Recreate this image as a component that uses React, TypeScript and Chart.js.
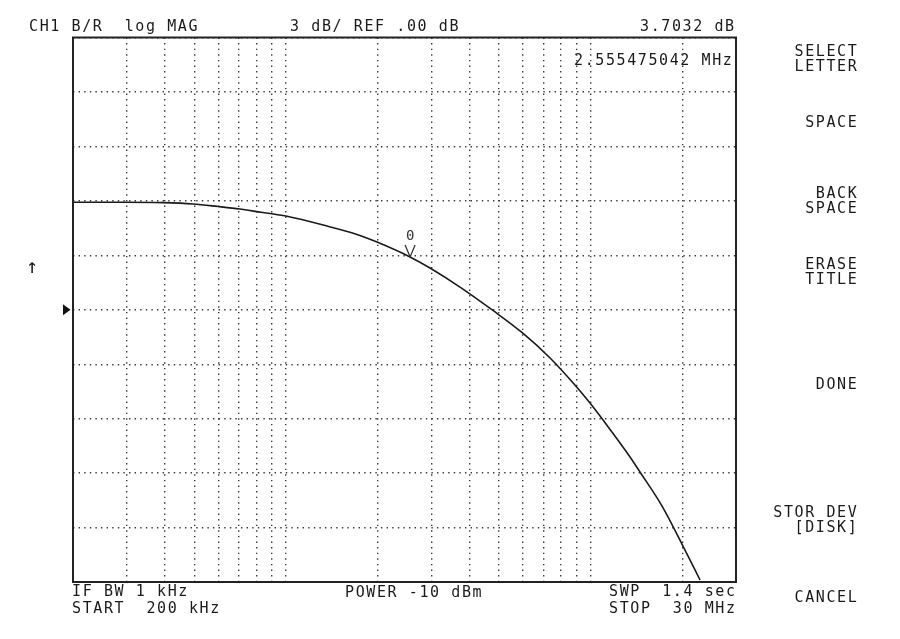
import React, { useEffect, useRef } from "react";
import { Chart, registerables } from "chart.js";

Chart.register(...registerables);

const freqMHz = [0.2, 0.296, 0.395, 0.495, 0.598, 0.706, 0.791, 0.9, 1.008, 1.323, 1.711, 1.99, 2.554, 2.97, 3.726, 4.78, 5.95, 7.36, 8.88, 9.95, 11.31, 13.26, 14.52, 17.14, 19.94, 22.86];
const magDb = [5.92, 5.92, 5.9, 5.83, 5.69, 5.55, 5.42, 5.29, 5.15, 4.67, 4.15, 3.73, 2.91, 2.3, 1.25, -0.04, -1.25, -2.66, -4.15, -5.14, -6.36, -7.95, -8.94, -10.81, -12.91, -14.89];

// Axes
const startMHz = 0.2;
const stopMHz = 30;
const gridFreqs = [0.3, 0.4, 0.5, 0.6, 0.7, 0.8, 0.9, 1, 2, 3, 4, 5, 6, 7, 8, 9, 10, 20];
const refLevel = 0;
const dbPerDiv = 3;
const divisions = 10;

// Marker
const markerFreq = 2.555475042;
const markerDb = 2.91;
const markerLabel = "0";

// Texts
const headerLeft = "CH1 B/R  log MAG";
const headerMid = "3 dB/ REF .00 dB";
const headerRight = "3.7032 dB";
const markerReadout = "2.555475042 MHz";
const footerLeft1 = "IF BW 1 kHz";
const footerLeft2 = "START  200 kHz";
const footerMid = "POWER -10 dBm";
const footerRight1 = "SWP  1.4 sec";
const footerRight2 = "STOP  30 MHz";
const softkeys = ["SELECT\nLETTER", "SPACE", "BACK\nSPACE", "ERASE\nTITLE", "DONE", "STOR DEV\n[DISK]", "CANCEL"];
const softkeyTops = [44.3, 114.5, 186.3, 256.8, 377.3, 505.3, 589.8];

const FONT = '"DejaVu Sans Mono", "Liberation Mono", monospace';

const txt: React.CSSProperties = {
  position: "absolute",
  fontFamily: FONT,
  fontSize: 15,
  lineHeight: "15px",
  letterSpacing: "1.6px",
  whiteSpace: "pre",
  color: "#1a1a1a",
  margin: 0,
};

const overlay = {
  id: "overlay",
  afterDatasetsDraw(chart: any) {
    const { ctx, chartArea: a, scales } = chart;
    const x = scales.x;
    const y = scales.y;
    ctx.save();
    // frame
    ctx.strokeStyle = "#222";
    ctx.lineWidth = 2;
    ctx.strokeRect(a.left, a.top, a.right - a.left, a.bottom - a.top);
    // reference level triangle
    const ry = y.getPixelForValue(refLevel);
    ctx.fillStyle = "#111";
    ctx.beginPath();
    ctx.moveTo(a.left - 10, ry - 5.5);
    ctx.lineTo(a.left - 2.5, ry);
    ctx.lineTo(a.left - 10, ry + 5.5);
    ctx.closePath();
    ctx.fill();
    // marker
    const mx = x.getPixelForValue(markerFreq);
    const my = y.getPixelForValue(markerDb);
    ctx.strokeStyle = "#333";
    ctx.lineWidth = 1.3;
    ctx.beginPath();
    ctx.moveTo(mx - 5, my - 12);
    ctx.lineTo(mx, my);
    ctx.lineTo(mx + 5, my - 12);
    ctx.stroke();
    ctx.fillStyle = "#333";
    ctx.font = '14px "DejaVu Sans Mono"';
    ctx.textAlign = "center";
    ctx.textBaseline = "middle";
    ctx.fillText(markerLabel, mx, my - 21);
    ctx.restore();
  },
};

export default function App() {
  const ref = useRef<HTMLCanvasElement | null>(null);

  useEffect(() => {
    if (!ref.current) return;
    const half = (dbPerDiv * divisions) / 2;
    const chart = new Chart(ref.current, {
      type: "line",
      data: {
        labels: freqMHz,
        datasets: [
          {
            data: freqMHz.map((f, i) => ({ x: f, y: magDb[i] })),
            borderColor: "#1a1a1a",
            borderWidth: 1.6,
            pointRadius: 0,
            fill: false,
            cubicInterpolationMode: "monotone",
          },
        ],
      },
      options: {
        animation: false,
        responsive: true,
        maintainAspectRatio: false,
        layout: { padding: { left: 73, right: 164, top: 37.5, bottom: 57 } },
        plugins: { legend: { display: false }, tooltip: { enabled: false }, title: { display: false } },
        scales: {
          x: {
            type: "logarithmic",
            min: startMHz,
            max: stopMHz,
            afterBuildTicks: (axis: any) => {
              axis.ticks = gridFreqs.map((v) => ({ value: v }));
            },
            ticks: { display: false },
            grid: { color: "#3a3a3a", lineWidth: 1.4, drawTicks: false },
            border: { display: false, dash: [1.4, 4.2] },
          },
          y: {
            type: "linear",
            min: refLevel - half,
            max: refLevel + half,
            ticks: { display: false, stepSize: dbPerDiv },
            grid: { color: "#3a3a3a", lineWidth: 1.4, drawTicks: false },
            border: { display: false, dash: [1.4, 4.2] },
          },
        },
      },
      plugins: [overlay],
    } as any);
    return () => chart.destroy();
  }, []);

  return (
    <div style={{ position: "fixed", left: 0, top: 0, width: 900, height: 639, background: "#fff", overflow: "hidden" }}>
      <canvas ref={ref} style={{ position: "absolute", left: 0, top: 0, width: 900, height: 639 }} />
      <div style={{ ...txt, left: 26, top: 256, fontSize: 20, lineHeight: "20px", letterSpacing: 0 }}>↑</div>
      <div style={{ ...txt, left: 29, top: 18.8 }}>{headerLeft}</div>
      <div style={{ ...txt, left: 290, top: 18.8 }}>{headerMid}</div>
      <div style={{ ...txt, left: 640, top: 18.8 }}>{headerRight}</div>
      <div style={{ ...txt, left: 574, top: 53.3 }}>{markerReadout}</div>
      {softkeys.map((s, i) => (
        <div key={i} style={{ ...txt, right: 41.7, top: softkeyTops[i], textAlign: "right" }}>
          {s}
        </div>
      ))}
      <div style={{ ...txt, left: 72, top: 583.8 }}>{footerLeft1}</div>
      <div style={{ ...txt, left: 72, top: 600.8 }}>{footerLeft2}</div>
      <div style={{ ...txt, left: 345, top: 585.3 }}>{footerMid}</div>
      <div style={{ ...txt, left: 609, top: 583.8 }}>{footerRight1}</div>
      <div style={{ ...txt, left: 609, top: 600.8 }}>{footerRight2}</div>
    </div>
  );
}
